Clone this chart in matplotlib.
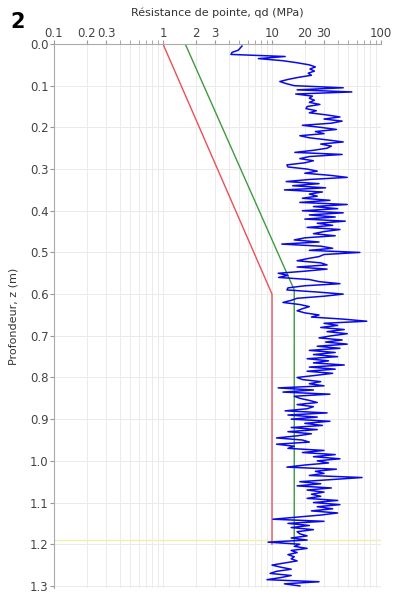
import numpy as np
import matplotlib.pyplot as plt
from matplotlib.ticker import FixedLocator, NullFormatter

depth = np.round(np.arange(1, 261) * 0.005, 3)
qd = [
    5.3, 5.1, 4.9, 4.3, 4.2, 13.2, 7.5, 12.5, 17.0, 22.0,
    25.0, 22.3, 24.5, 21.5, 23.0, 17.5, 14.0, 11.8, 13.5, 16.0,
    45.0, 17.0, 54.0, 16.5, 23.5, 22.0, 24.5, 22.0, 27.5, 21.0,
    20.5, 25.5, 22.0, 31.5, 42.0, 30.0, 44.0, 35.0, 19.0, 28.0,
    39.0, 25.0, 30.0, 18.0, 22.0, 32.0, 45.0, 28.0, 35.0, 32.0,
    24.0, 16.2, 44.0, 22.0, 18.0, 24.0, 20.0, 13.7, 14.0, 21.0,
    26.0, 20.0, 34.0, 49.0, 22.0, 13.5, 27.0, 15.5, 31.0, 13.0,
    29.0, 22.0, 26.0, 19.0, 34.0, 18.0, 49.0, 24.0, 40.0, 19.0,
    45.0, 22.0, 38.0, 20.0, 47.0, 26.0, 36.0, 21.0, 42.0, 30.0,
    24.0, 38.0, 20.0, 16.0, 27.0, 12.3, 28.0, 36.0, 22.0, 64.0,
    30.0, 27.0, 21.0, 17.0, 28.0, 32.0, 17.0, 32.0, 20.0, 11.4,
    14.0, 11.5, 22.0, 27.0, 42.0, 20.0, 14.0, 13.7, 26.0, 45.0,
    30.0, 17.0, 15.0, 12.6, 18.0, 22.0, 19.0, 17.0, 20.0, 27.0,
    23.0, 45.0, 74.0, 30.0, 40.0, 28.0, 46.0, 32.0, 49.0, 35.0,
    27.0, 44.0, 31.0, 49.0, 26.0, 42.0, 22.0, 38.0, 24.0, 40.0,
    21.0, 33.0, 24.0, 46.0, 22.0, 38.0, 21.0, 36.0, 25.0, 17.0,
    19.0, 28.0, 22.0, 30.0, 11.4, 24.0, 12.6, 34.0, 16.0, 18.0,
    22.0, 26.0, 17.0, 24.0, 21.0, 13.2, 32.0, 14.0, 26.0, 15.0,
    34.0, 20.0, 29.0, 15.0, 26.0, 14.0, 23.0, 17.0, 11.0, 19.0,
    22.0, 11.0, 16.0, 14.0, 30.0, 19.0, 38.0, 24.0, 42.0, 26.0,
    33.0, 20.0, 13.7, 39.0, 25.0, 30.0, 22.0, 67.0, 35.0, 18.0,
    28.0, 17.0, 35.0, 21.0, 30.0, 23.0, 28.0, 21.0, 40.0, 24.0,
    42.0, 26.0, 36.0, 23.0, 40.0, 28.0, 17.0, 10.2, 30.0, 14.0,
    22.0, 15.0, 24.0, 17.0, 18.0, 21.0, 15.0, 21.0, 9.2, 18.0,
    16.0, 21.0, 15.0, 17.0, 14.0, 16.0, 15.0, 17.0, 13.0, 10.0,
    12.0, 15.0, 11.0, 9.6, 15.0, 12.0, 9.0, 27.0, 13.0, 18.0,
]

# reference lines
red_z = [0.0, 0.6, 1.2]
red_q = [1.0, 10.0, 10.0]
green_z = [0.0, 0.59, 1.2]
green_q = [1.6, 16.0, 16.0]
yellow_z = 1.19

major_ticks = [0.1, 0.2, 0.3, 1, 2, 3, 10, 20, 30, 100]
major_labels = ["0.1", "0.2", "0.3", "1", "2", "3", "10", "20", "30", "100"]
minor_ticks = [0.4, 0.5, 0.6, 0.7, 0.8, 0.9, 4, 5, 6, 7, 8, 9,
               40, 50, 60, 70, 80, 90]
depth_ticks = [0.0, 0.1, 0.2, 0.3, 0.4, 0.5, 0.6, 0.7, 0.8, 0.9,
               1.0, 1.1, 1.2, 1.3]

fig = plt.figure(figsize=(3.96, 5.98), dpi=100)
ax = fig.add_axes([54 / 396, 1 - 588 / 598, 327 / 396, 544 / 598])

ax.set_xscale("log")
ax.set_xlim(0.1, 100)
ax.set_ylim(1.305, 0)

ax.axhline(yellow_z, color="#f2f0a8", lw=1.0, zorder=1)
ax.plot(red_q, red_z, color="#e8505a", lw=1.0, zorder=2)
ax.plot(green_q, green_z, color="#3f9a3f", lw=1.0, zorder=2)
ax.plot(qd, depth, color="#0a0ae6", lw=1.1, zorder=3)

ax.xaxis.tick_top()
ax.xaxis.set_label_position("top")
ax.xaxis.set_major_locator(FixedLocator(major_ticks))
ax.xaxis.set_minor_locator(FixedLocator(minor_ticks))
ax.set_xticklabels(major_labels)
ax.xaxis.set_minor_formatter(NullFormatter())
ax.set_yticks(depth_ticks)
ax.set_yticklabels([f"{d:.1f}" for d in depth_ticks])

ax.tick_params(axis="both", which="both", labelsize=8.5, colors="#999999",
               labelcolor="#444444", length=3, pad=1)
ax.tick_params(axis="x", which="major", pad=0)

ax.grid(True, which="both", axis="x", color="#ebebeb", lw=0.7, zorder=0)
ax.grid(True, which="major", axis="y", color="#ebebeb", lw=0.7, zorder=0)

for side in ["right", "bottom"]:
    ax.spines[side].set_visible(False)
for side in ["left", "top"]:
    ax.spines[side].set_color("#aaaaaa")
    ax.spines[side].set_linewidth(0.8)

ax.set_xlabel("Résistance de pointe, qd (MPa)", fontsize=8, color="#333333",
              labelpad=8)
ax.set_ylabel("Profondeur, z (m)", fontsize=8, color="#333333", labelpad=8)

fig.text(10 / 396, 1 - 22 / 598, "2", fontsize=15, fontweight="bold",
         va="center", ha="left")

fig.savefig("out.png", dpi=100)
